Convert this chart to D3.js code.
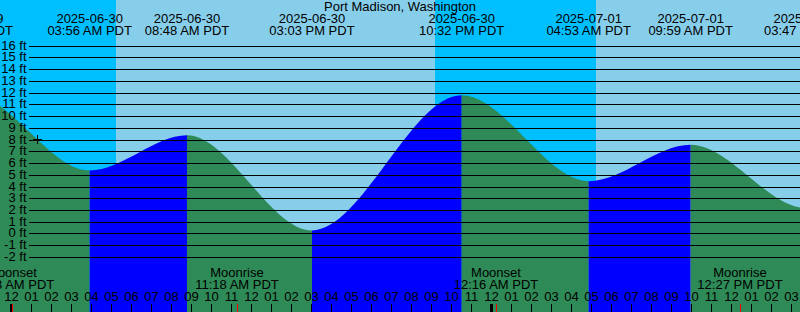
<!DOCTYPE html>
<html>
<head>
<meta charset="utf-8">
<script src="https://cdn.jsdelivr.net/npm/d3@7"></script>
<style>
  body { margin: 0; background: #fff; }
  #chart text { font-family: "Liberation Sans", Arial, sans-serif; font-size: 13px; fill: #000; }
</style>
</head>
<body>
<div id="chart"></div>
<script>
let W = 800, H = 312;

let stationName = "Port Madison, Washington";

// high / low tide events (local time, PDT) and levels in feet
let tideTimes  = ["2025-06-29 14:40", "2025-06-29 21:58", "2025-06-30 03:56", "2025-06-30 08:48",
                  "2025-06-30 15:03", "2025-06-30 22:32", "2025-07-01 04:53", "2025-07-01 09:59",
                  "2025-07-01 15:47", "2025-07-01 23:20"];
let tideLevels = [-0.4, 11.9, 5.4, 8.4, 0.3, 11.8, 4.5, 7.6, 2.2, 11.3];

// sunrise / sunset
let sunTimes = ["2025-06-30 05:15", "2025-06-30 21:12", "2025-07-01 05:15"];
let sunKinds = ["rise", "set", "rise"];

// moon events
let moonTimes = ["2025-06-30 00:03", "2025-06-30 11:18", "2025-07-01 00:16", "2025-07-01 12:27"];
let moonKinds = ["Moonset", "Moonrise", "Moonset", "Moonrise"];

// "+" mark
let markTime = "2025-06-30 01:19", markLevel = 8.05;

let feetTicks = d3.range(-2, 17);

let parse = d3.timeParse("%Y-%m-%d %H:%M");
let fmtDate = d3.timeFormat("%Y-%m-%d"),
    fmtTime = d3.timeFormat("%I:%M %p PDT"),
    fmtHour = d3.timeFormat("%I");

let tides = tideTimes.map(function(t, i) { return {t: parse(t), v: tideLevels[i]}; });

let x = d3.scaleTime()
    .domain([parse("2025-06-29 23:27"), parse("2025-07-01 15:27")])
    .range([0, W]);
let y = d3.scaleLinear().domain([-2, 16]).range([257.5, 46]);
let yGrid = d3.scaleLinear().domain([-2, 16]).range([257, 45.5]).interpolate(d3.interpolateRound);

let svg = d3.select("#chart").append("svg")
    .attr("width", W).attr("height", H)
    .attr("shape-rendering", "crispEdges");

// sky: night before first sunrise, then alternate
let dayColor = "#87ceeb", nightColor = "#00bfff";
svg.append("rect").attr("x", 0).attr("y", 0).attr("width", W).attr("height", H).attr("fill", nightColor);
sunTimes.forEach(function(s, i) {
    if (sunKinds[i] !== "rise") return;
    let x0 = x(parse(s)),
        x1 = i + 1 < sunTimes.length ? x(parse(sunTimes[i + 1])) : W;
    svg.append("rect").attr("x", x0).attr("y", 0).attr("width", x1 - x0).attr("height", H).attr("fill", dayColor);
});

// tide curve
let area = d3.area()
    .x(function(d) { return x(d.t); })
    .y0(H)
    .y1(function(d) { return y(d.v); })
    .curve(d3.curveMonotoneX);

let defs = svg.append("defs");
tides.slice(0, -1).forEach(function(d, i) {
    let n = tides[i + 1],
        x0 = x(d.t), x1 = x(n.t);
    defs.append("clipPath").attr("id", "seg" + i)
      .append("rect").attr("x", x0).attr("y", 0).attr("width", x1 - x0).attr("height", H);
    svg.append("path")
        .datum(tides)
        .attr("d", area)
        .attr("shape-rendering", "auto")
        .attr("clip-path", "url(#seg" + i + ")")
        .attr("fill", n.v > d.v ? "#0000ff" : "#2e8b57");
});

// depth grid + labels
let yAxis = d3.axisLeft(yGrid)
    .tickValues(feetTicks)
    .tickSizeInner(-(W - 29))
    .tickSizeOuter(0)
    .tickPadding(2.5)
    .tickFormat(function(d) { return d + " ft"; });
let gy = svg.append("g").attr("transform", "translate(29,0)").call(yAxis);
gy.select(".domain").remove();
gy.selectAll("line").attr("stroke", "#000");
gy.selectAll("text").attr("font-family", null).attr("font-size", null).attr("dy", "0.3em");
gy.attr("font-family", null).attr("font-size", null);

// mark
let mx = Math.round(x(parse(markTime))), my = Math.round(y(markLevel));
svg.append("path")
    .attr("d", "M" + (mx - 4) + "," + (my + 0.5) + "h9M" + (mx + 0.5) + "," + (my - 4) + "v9")
    .attr("stroke", "#000").attr("fill", "none");

// hour axis at bottom
let xAxis = d3.axisTop(x)
    .ticks(d3.timeHour.every(1))
    .tickSizeInner(8).tickSizeOuter(0).tickPadding(3)
    .tickFormat(fmtHour);
let gx = svg.append("g").attr("transform", "translate(0," + H + ")").call(xAxis);
gx.select(".domain").remove();
gx.selectAll("line").attr("stroke", "#000");
gx.selectAll("text").attr("font-family", null).attr("font-size", null);
gx.attr("font-family", null).attr("font-size", null);

// midnight marks
d3.timeDay.range(x.domain()[0], x.domain()[1]).forEach(function(d) {
    svg.append("rect").attr("x", Math.round(x(d)) - 1).attr("y", H - 8)
        .attr("width", 3).attr("height", 8).attr("fill", "#000");
});

// moon events
moonTimes.forEach(function(m, i) {
    let t = parse(m), mx = Math.round(x(t));
    svg.append("rect").attr("x", mx).attr("y", H - 8).attr("width", 1).attr("height", 8).attr("fill", "#ff0000");
    svg.append("text").attr("x", mx).attr("y", 277).attr("text-anchor", "middle").text(moonKinds[i]);
    svg.append("text").attr("x", mx).attr("y", 289).attr("text-anchor", "middle").text(fmtTime(t));
});

// tide event labels
tides.forEach(function(d) {
    let tx = x(d.t);
    if (tx < -120 || tx > W + 120) return;
    svg.append("text").attr("x", tx).attr("y", 23).attr("text-anchor", "middle").text(fmtDate(d.t));
    svg.append("text").attr("x", tx).attr("y", 35).attr("text-anchor", "middle").text(fmtTime(d.t));
});

// title
svg.append("text").attr("x", W / 2).attr("y", 11).attr("text-anchor", "middle").text(stationName);
</script>
</body>
</html>
